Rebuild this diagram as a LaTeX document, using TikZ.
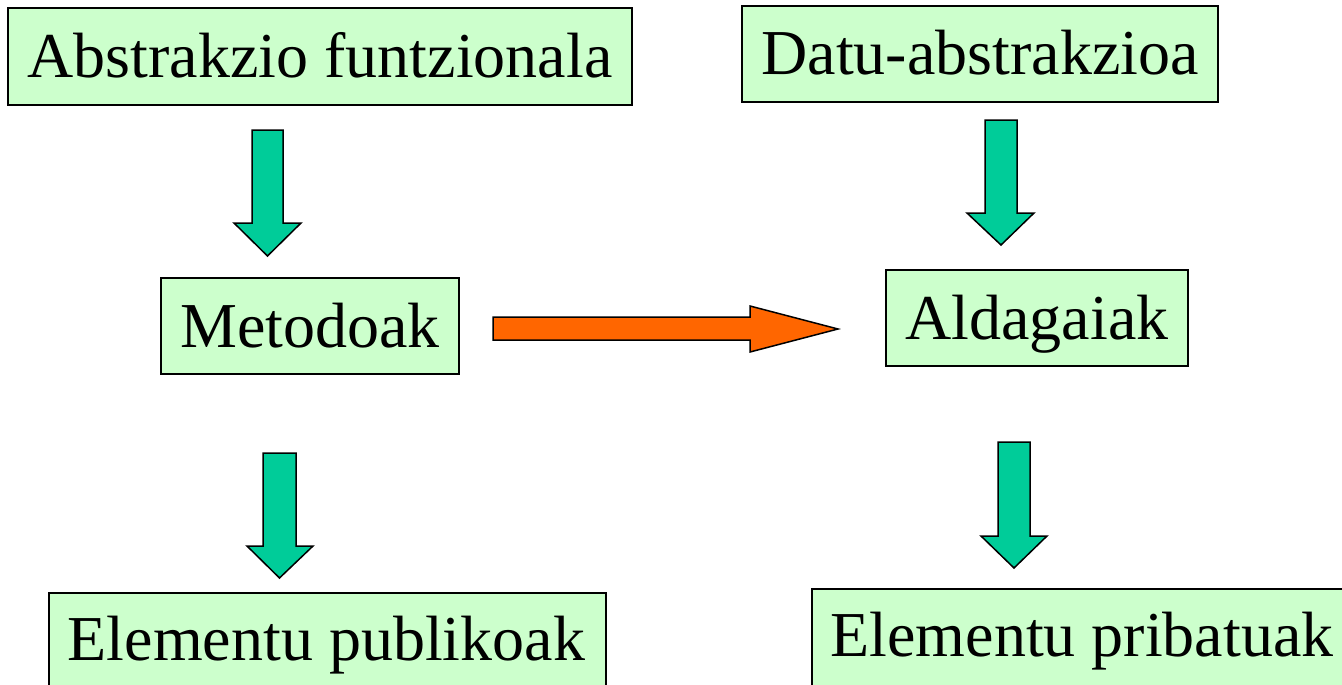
\documentclass[tikz,border=0pt]{standalone}
\usepackage{fontspec}
\setmainfont{Liberation Serif}
\definecolor{boxfill}{HTML}{CCFFCC}
\definecolor{arrgreen}{HTML}{00CC99}
\definecolor{arrorange}{HTML}{FF6600}
\tikzset{
  bigtext/.style={font=\fontsize{64}{70}\selectfont, text height=58pt, text depth=16pt, inner sep=0pt},
  lbox/.style={bigtext, draw=black, line width=1.5pt, fill=boxfill},
  greenarr/.style={draw=black, line width=1.5pt, fill=arrgreen, line join=miter},
  orangearr/.style={draw=black, line width=1.5pt, fill=arrorange, line join=miter}
}
\begin{document}
\begin{tikzpicture}[x=1pt,y=-1pt]
\useasboundingbox (0,0) rectangle (1342,685);
\clip (0,0) rectangle (1342,685);
\fill[white] (0,0) rectangle (1342,685);
% boxes
\node[lbox, minimum width=624pt, minimum height=97pt] (abs) at (320,56.5) {Abstrakzio funtzionala};
\node[lbox, minimum width=476pt, minimum height=96pt] (datu) at (980,54) {Datu-abstrakzioa};
\node[lbox, minimum width=298pt, minimum height=96pt] (met) at (310,326) {Metodoak};
\node[lbox, minimum width=302pt, minimum height=96pt] (ald) at (1037,318) {Aldagaiak};
\node[lbox, minimum width=557pt, minimum height=100pt, anchor=north west] (pub) at (48,592) {};
\node[bigtext] (pubt) at (326.5,639) {Elementu publikoak};
\node[lbox, minimum width=545pt, minimum height=104pt, anchor=north west] (pri) at (811,588) {};
\node[bigtext] (prit) at (1082,635) {Elementu pribatuak};
% green block arrows
\draw[greenarr] (252,130) -- (283,130) -- (283,223) -- (301,223) -- (267.5,256) -- (234,223) -- (252,223) -- cycle;
\draw[greenarr] (985,120) -- (1017,120) -- (1017,213) -- (1034,213) -- (1001,245) -- (967,213) -- (985,213) -- cycle;
\draw[greenarr] (263,453) -- (296,453) -- (296,546) -- (313,546) -- (279.5,578) -- (247,546) -- (263,546) -- cycle;
\draw[greenarr] (998,442) -- (1030,442) -- (1030,536) -- (1047,536) -- (1014,568) -- (981,536) -- (998,536) -- cycle;
% orange block arrow
\draw[orangearr] (493,317) -- (750,317) -- (750,306) -- (838,329) -- (750,352) -- (750,340) -- (493,340) -- cycle;
\end{tikzpicture}
\end{document}
